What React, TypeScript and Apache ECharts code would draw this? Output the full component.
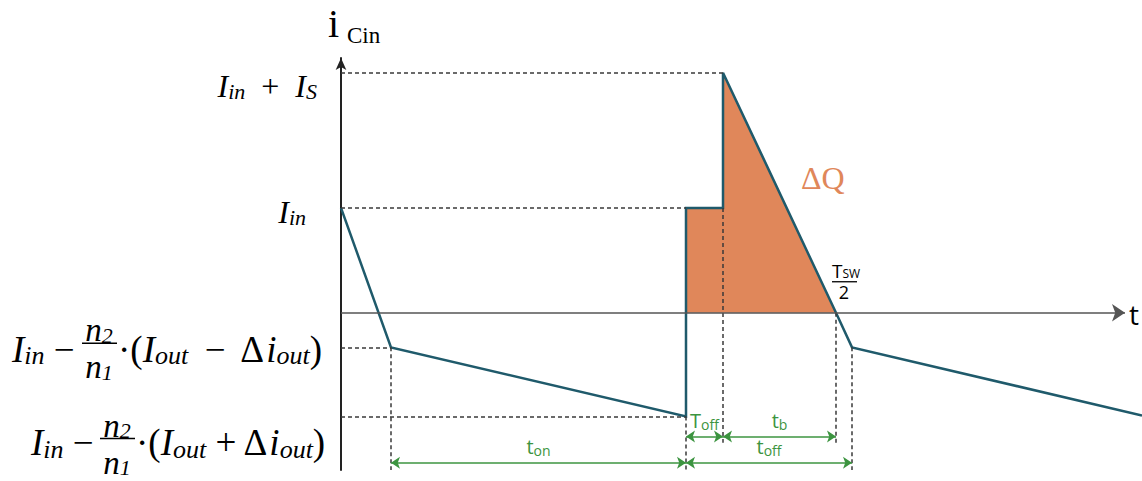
import { useEffect, useRef } from 'react';
import * as echarts from 'echarts';

const SERIF = '"Liberation Serif", "DejaVu Serif", serif';
const SANS = '"Open Sans", "Noto Sans", sans-serif';
const TEAL = '#1F5A6B';
const ORANGE = '#E0875A';
const GREEN = '#3C9440';
const GUIDE = '#3a3a3a';

// input-capacitor current waveform (time in arbitrary units, current in units of I_in)
const waveT = [0, 50, 345, 345, 382, 382, 495, 511, 801];
const waveI = [1.0, -0.33, -0.99, 1.0, 1.0, 2.29, 0, -0.33, -0.98];

// charge area ΔQ
const areaT = [345, 345, 382, 382, 495];
const areaI = [0, 1.0, 1.0, 2.29, 0];

// current levels on the vertical axis
const levelIinIs = 2.29;
const levelIin = 1.0;
const levelLowA = -0.33;
const levelLowB = -0.99;

// time instants
const tStart = 0;
const tA = 50;
const tOnEnd = 345;
const tStep = 382;
const tHalf = 495;
const tOffEnd = 511;
const tAxisEnd = 784;

// axis range
const xMin = 0;
const xMax = 801;
const yMin = -1.5;
const yMax = 2.43;

// dimension rows
const rowUpper = -1.18;
const rowLower = -1.43;
const guideBottomShort = -1.24;

// interval marks
const intervalNames = ['ton', 'Toff', 'tb', 'toff'];
const intervalStart = [tA, tOnEnd, tStep, tOnEnd];
const intervalEnd = [tOnEnd, tStep, tHalf, tOffEnd];
const intervalRow = [rowLower, rowUpper, rowUpper, rowLower];
const intervalMain = ['t', 'T', 't', 't'];
const intervalSub = ['on', 'off', 'b', 'off'];

// dashed guides
const guideFrom: number[][] = [
  [tStart, levelIinIs], [tStart, levelIin], [tStart, levelLowA], [tStart, levelLowB],
  [tA, levelLowA], [tOnEnd, levelLowB], [tStep, levelIin], [tHalf, 0], [tOffEnd, levelLowA],
];
const guideTo: number[][] = [
  [tStep, levelIinIs], [tOnEnd, levelIin], [tA, levelLowA], [tOnEnd, levelLowB],
  [tA, yMin], [tOnEnd, yMin], [tStep, guideBottomShort], [tHalf, guideBottomShort], [tOffEnd, yMin],
];

function mathRich(main: number, sub: number, drop: number) {
  return {
    m: { fontFamily: SERIF, fontStyle: 'italic', fontSize: main, lineHeight: main, fill: '#000' },
    u: { fontFamily: SERIF, fontSize: main, lineHeight: main, fill: '#000' },
    s: { fontFamily: SERIF, fontStyle: 'italic', fontSize: sub, lineHeight: sub, fill: '#000', padding: [drop, 0, 0, 0] },
  };
}

export default function App() {
  const ref = useRef<HTMLDivElement>(null);
  useEffect(() => {
    const chart = echarts.init(ref.current!, null, { renderer: 'svg' });
    const option: any = {
      animation: false,
      grid: { left: 341, top: 58, width: 801, height: 412, containLabel: false },
      xAxis: {
        type: 'value', min: xMin, max: xMax,
        axisLine: { show: false },
        axisTick: { show: false }, axisLabel: { show: false }, splitLine: { show: false },
      },
      yAxis: {
        type: 'value', min: yMin, max: yMax,
        axisLine: { show: true, symbol: ['none', 'arrow'], symbolSize: [8, 12], lineStyle: { color: '#222', width: 2 } },
        axisTick: { show: false }, axisLabel: { show: false }, splitLine: { show: false },
      },
      series: [
        {
          type: 'line', silent: true, z: 1, showSymbol: false, symbol: 'none',
          data: areaT.map((t, i) => [t, areaI[i]]),
          lineStyle: { width: 0 },
          areaStyle: { color: ORANGE, opacity: 1 },
        },
        {
          type: 'line', silent: true, z: 2, data: [], symbol: 'none',
          markLine: {
            silent: true, symbol: 'none', label: { show: false },
            lineStyle: { type: [4, 3], color: GUIDE, width: 1.5 },
            emphasis: { disabled: true },
            data: guideFrom.map((f, i) => [{ coord: f }, { coord: guideTo[i] }]),
          },
        },
        {
          // time axis with arrow
          type: 'line', silent: true, z: 2, data: [], symbol: 'none',
          markLine: {
            silent: true, symbol: ['none', 'arrow'], symbolSize: 13, label: { show: false },
            lineStyle: { type: 'solid', color: '#555', width: 1.5 },
            emphasis: { disabled: true },
            data: [[{ coord: [tStart, 0] }, { coord: [tAxisEnd, 0] }]],
          },
        },
        {
          type: 'line', silent: true, z: 3, showSymbol: false, symbol: 'none', clip: false,
          data: waveT.map((t, i) => [t, waveI[i]]),
          lineStyle: { color: TEAL, width: 2.5, join: 'miter' },
        },
        {
          type: 'line', silent: true, z: 4, data: [], symbol: 'none',
          markLine: {
            silent: true, symbol: ['arrow', 'arrow'], symbolSize: 9,
            lineStyle: { type: 'solid', color: GREEN, width: 1.5 },
            emphasis: { disabled: true },
            label: {
              show: true, position: 'insideMiddleTop', distance: 6,
              formatter: (p: any) => {
                const i = intervalNames.indexOf(p.name);
                return `{a|${intervalMain[i]}}{b|${intervalSub[i]}}`;
              },
              rich: {
                a: { fontFamily: SANS, fontSize: 20, lineHeight: 20, color: GREEN },
                b: { fontFamily: SANS, fontSize: 14, lineHeight: 14, color: GREEN, padding: [8, 0, 0, 0] },
              },
            },
            data: intervalNames.map((n, i) => [
              { name: n, coord: [intervalStart[i], intervalRow[i]] },
              { coord: [intervalEnd[i], intervalRow[i]] },
            ]),
          },
        },
      ],
    };
    chart.setOption(option);

    const px = (t: number, v: number) => chart.convertToPixel({ gridIndex: 0 }, [t, v]) as number[];
    const yIs = px(0, levelIinIs)[1];
    const yIn = px(0, levelIin)[1];
    const yA = px(0, levelLowA)[1];
    const yB = px(0, levelLowB)[1];
    const zero = px(tHalf, 0);
    const origin = px(tAxisEnd, 0);
    const top = px(0, yMax);

    const fraction = (cx: number, barY: number, x1: number, x2: number, sub2: string, sub1: string) => [
      {
        type: 'text', x: cx, y: barY - 13,
        style: { text: `{m|n}{s|${sub2}}`, rich: mathRich(33, 22, 10), align: 'center', verticalAlign: 'middle' },
      },
      { type: 'line', shape: { x1, y1: barY, x2, y2: barY }, style: { stroke: '#000', lineWidth: 1.5 } },
      {
        type: 'text', x: cx, y: barY + 24,
        style: { text: `{m|n}{s|${sub1}}`, rich: mathRich(33, 22, 10), align: 'center', verticalAlign: 'middle' },
      },
    ];

    const graphic: any[] = [
      // axis titles
      { type: 'text', x: top[0] - 13, y: top[1] - 35, style: { text: 'i', fontFamily: SERIF, fontSize: 40, fill: '#000', verticalAlign: 'middle' } },
      { type: 'text', x: top[0] + 6, y: top[1] - 23, style: { text: 'Cin', fontFamily: SERIF, fontSize: 23, fill: '#000', verticalAlign: 'middle' } },
      { type: 'text', x: origin[0] + 4, y: origin[1] + 1, style: { text: 't', fontFamily: SANS, fontSize: 28, fill: '#000', verticalAlign: 'middle' } },
      // level labels
      {
        type: 'text', x: 317, y: yIs + 13,
        style: { text: '{m|I}{s|in}{u|  +  }{m|I}{s|S}', rich: mathRich(32, 22, 11), align: 'right', verticalAlign: 'middle' },
      },
      {
        type: 'text', x: 306, y: yIn + 4,
        style: { text: '{m|I}{s|in}', rich: mathRich(32, 22, 11), align: 'right', verticalAlign: 'middle' },
      },
      {
        type: 'text', x: 12, y: yA + 2,
        style: { text: '{m|I}{s|in}{u| −}', rich: mathRich(37, 26, 13), align: 'left', verticalAlign: 'middle' },
      },
      ...fraction(99, yA - 4, 82, 117, '2', '1'),
      {
        type: 'text', x: 118, y: yA + 2,
        style: { text: '{u|·(}{m|I}{s|out}{u| \u2009−\u2009 Δ}{m|i}{s|out}{u|)}', rich: mathRich(37, 26, 13), align: 'left', verticalAlign: 'middle' },
      },
      {
        type: 'text', x: 31, y: yB + 26,
        style: { text: '{m|I}{s|in}{u| −}', rich: mathRich(37, 26, 13), align: 'left', verticalAlign: 'middle' },
      },
      ...fraction(117, yB + 22, 100, 135, '2', '1'),
      {
        type: 'text', x: 136, y: yB + 26,
        style: { text: '{u|·(}{m|I}{s|out}{u| + Δ}{m|i}{s|out}{u|)}', rich: mathRich(37, 26, 13), align: 'left', verticalAlign: 'middle' },
      },
      // ΔQ
      { type: 'text', x: 801, y: 178, style: { text: 'ΔQ', fontFamily: SERIF, fontSize: 32, fill: ORANGE, verticalAlign: 'middle' } },
      // T_SW / 2
      {
        type: 'text', x: zero[0] - 4, y: zero[1] - 42,
        style: {
          text: '{a|T}{b|SW}', verticalAlign: 'middle',
          rich: {
            a: { fontFamily: SANS, fontSize: 19, lineHeight: 16, fill: '#000' },
            b: { fontFamily: SANS, fontSize: 12, lineHeight: 10, fill: '#000', padding: [6, 0, 0, 0] },
          },
        },
      },
      { type: 'line', shape: { x1: zero[0] - 4, y1: zero[1] - 31, x2: zero[0] + 21, y2: zero[1] - 31 }, style: { stroke: '#000', lineWidth: 1.3 } },
      { type: 'text', x: zero[0] + 8, y: zero[1] - 21, style: { text: '2', fontFamily: SANS, fontSize: 18, lineHeight: 15, fill: '#000', align: 'center', verticalAlign: 'middle' } },
    ];
    chart.setOption({ graphic });
    return () => chart.dispose();
  }, []);
  return <div ref={ref} style={{ position: 'absolute', left: 0, top: 0, width: 1142, height: 481 }} />;
}
